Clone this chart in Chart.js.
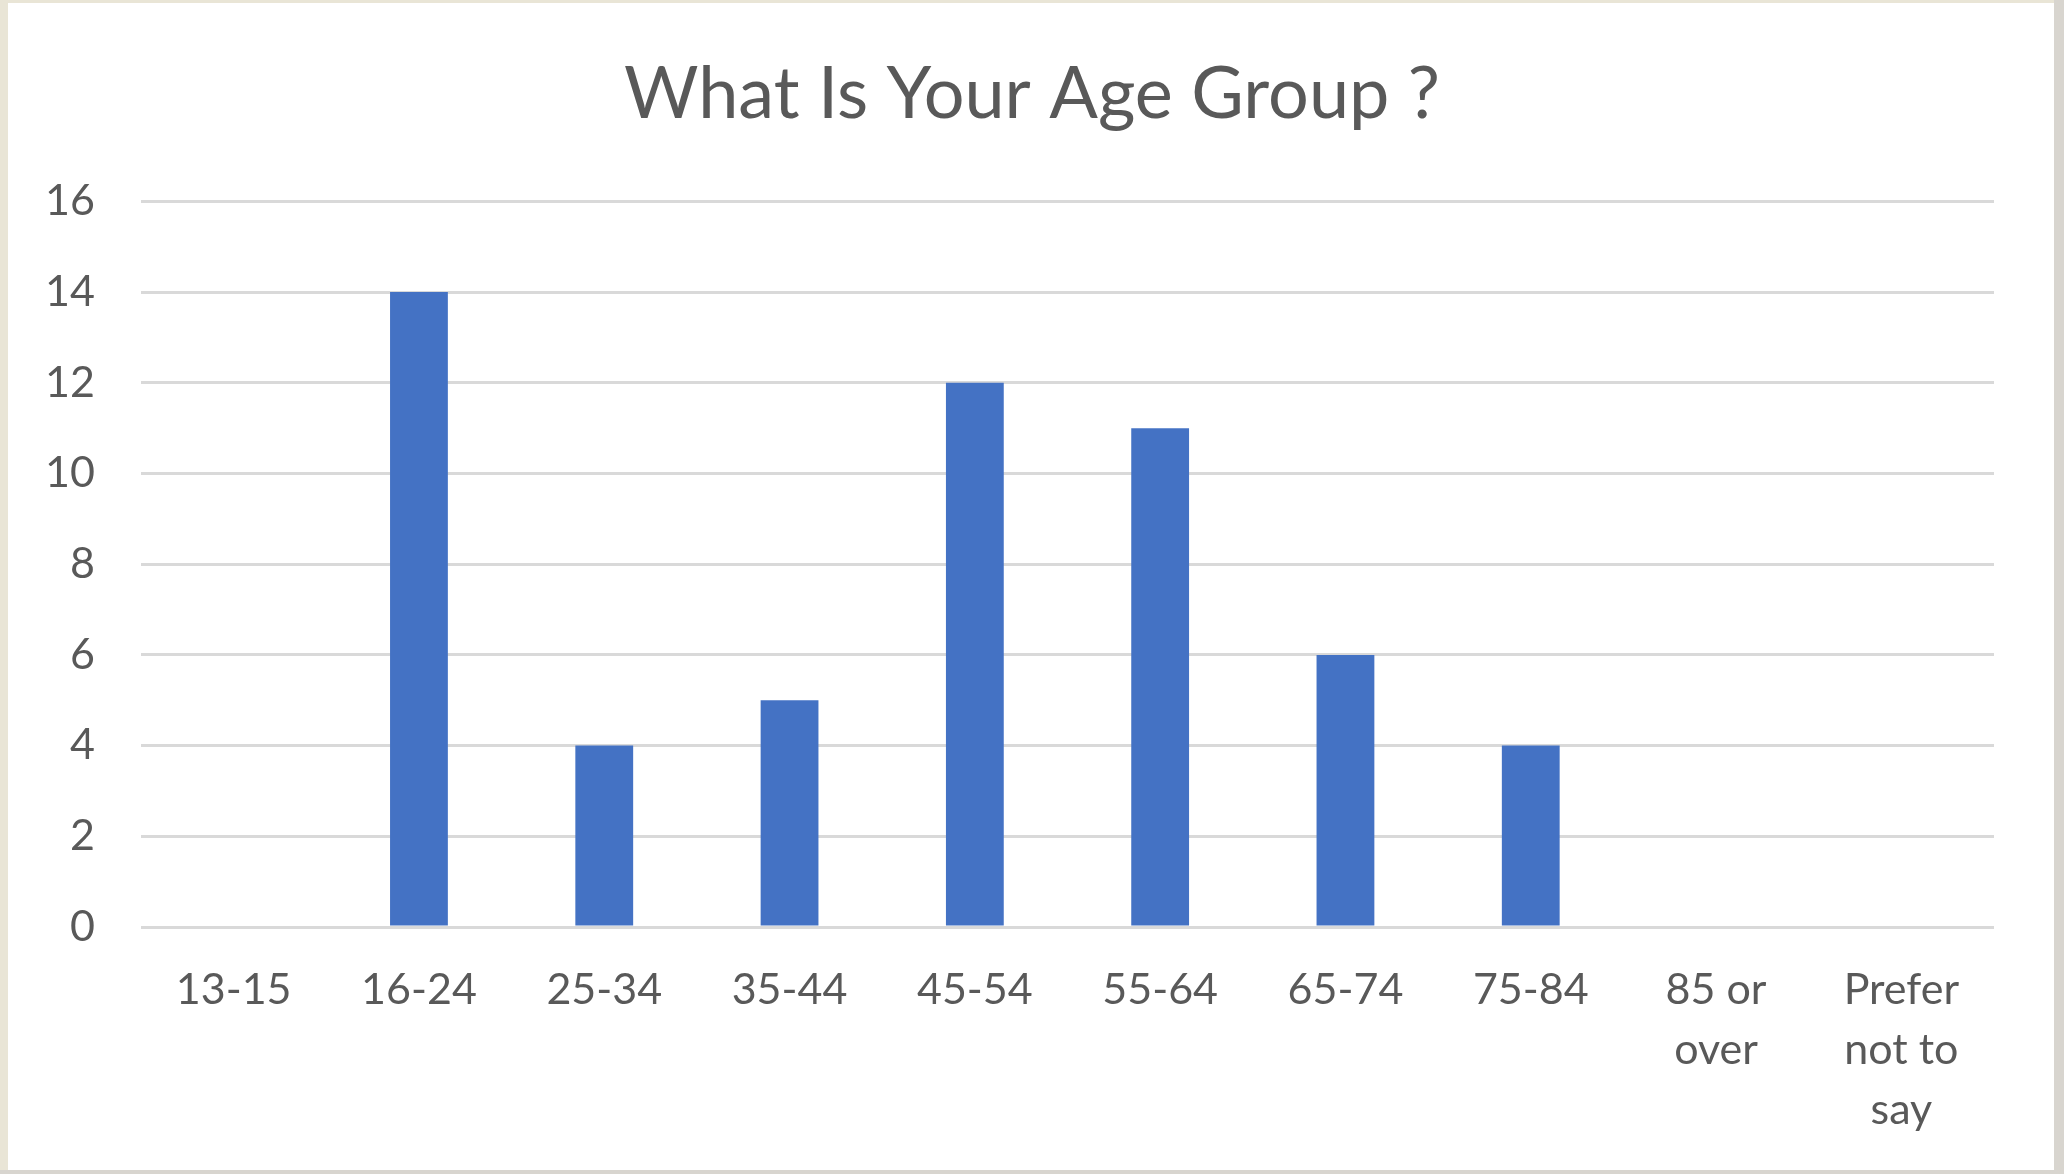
<!DOCTYPE html>
<html>
<head>
<meta charset="utf-8">
<script src="https://cdn.jsdelivr.net/npm/chart.js@4"></script>
<style>
  html, body { margin: 0; padding: 0; background: #ffffff; }
  #wrap { position: relative; width: 2064px; height: 1174px; }
  canvas { display: block; }
</style>
</head>
<body>
<div id="wrap"><canvas id="c" width="2064" height="1174"></canvas></div>
<script>
const titleText = "What Is Your Age Group ?";
const categories = ["13-15", "16-24", "25-34", "35-44", "45-54", "55-64", "65-74", "75-84", ["85 or", "over"], ["Prefer", "not to", "say"]];
const counts = [0, 14, 4, 5, 12, 11, 6, 4, 0, 0];
const yTicks = [0, 2, 4, 6, 8, 10, 12, 14, 16];

const FONT = "Lato, 'Open Sans', sans-serif";
const TEXT = "#595959";

const frame = {
  id: "frame",
  beforeDraw(chart) {
    const ctx = chart.ctx;
    const w = chart.width, h = chart.height;
    ctx.save();
    ctx.fillStyle = "#ffffff";
    ctx.fillRect(0, 0, w, h);
    ctx.fillStyle = "#E9E5D6";
    ctx.fillRect(0, 0, 8, h);
    ctx.fillRect(0, 0, w, 3);
    ctx.fillStyle = "#D8D5CF";
    ctx.fillRect(w - 10, 0, 10, h);
    ctx.fillRect(0, h - 4, w, 4);
    ctx.restore();
  }
};

new Chart(document.getElementById("c"), {
  type: "bar",
  data: {
    labels: categories,
    datasets: [{
      data: counts,
      backgroundColor: "#4472C4",
      borderWidth: 0,
      barPercentage: 0.312,
      categoryPercentage: 1
    }]
  },
  options: {
    responsive: false,
    animation: false,
    devicePixelRatio: 1,
    layout: { padding: { left: 0, right: 0, top: 0, bottom: 20 } },
    plugins: {
      legend: { display: false },
      tooltip: { enabled: false },
      title: {
        display: true,
        text: titleText,
        color: TEXT,
        font: { family: FONT, size: 72, weight: "normal", lineHeight: 1.2 },
        padding: { top: 52, bottom: 63 }
      }
    },
    scales: {
      x: {
        grid: { display: false, drawTicks: false },
        border: { display: false },
        ticks: {
          color: TEXT,
          font: { family: FONT, size: 43, lineHeight: 1.4 },
          padding: 33,
          maxRotation: 0,
          autoSkip: false
        },
        afterFit(s) { s.height = 1174 - 20 - 927; }
      },
      y: {
        min: 0,
        max: 16,
        afterBuildTicks(s) { s.ticks = yTicks.map(v => ({ value: v })); },
        grid: { color: "#D9D9D9", lineWidth: 3, drawTicks: false },
        border: { display: false },
        ticks: {
          color: TEXT,
          font: { family: FONT, size: 43 },
          padding: 46
        },
        afterFit(s) { s.width = 141; }
      },
      ySpacer: {
        position: "right",
        min: 0,
        max: 16,
        grid: { display: false, drawTicks: false },
        border: { display: false },
        ticks: { display: false },
        afterFit(s) { s.width = 70; }
      }
    }
  },
  plugins: [frame]
});
</script>
</body>
</html>
